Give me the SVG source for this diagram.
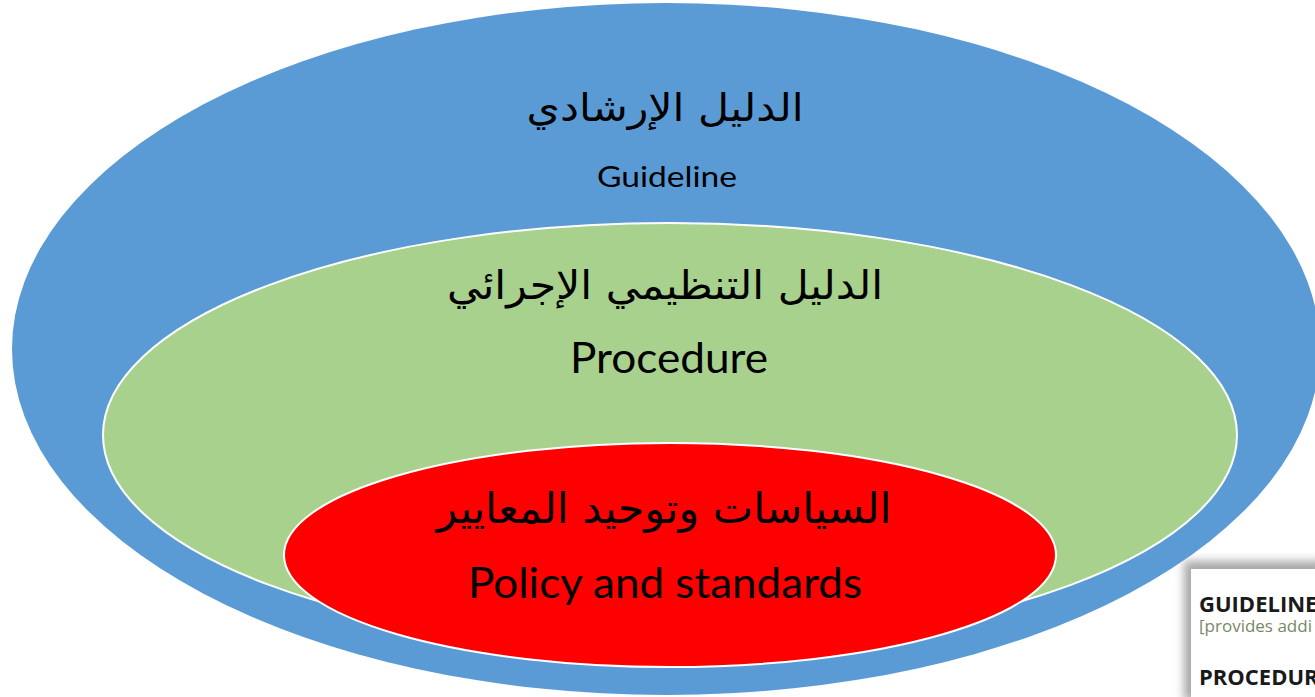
<svg xmlns="http://www.w3.org/2000/svg" width="1315" height="697" viewBox="0 0 1315 697">
<style>
.ar{font-family:"DejaVu Sans",sans-serif;fill:#000;text-anchor:middle}
.en{font-family:Lato,"Open Sans",sans-serif;fill:#000;text-anchor:middle}
.ell{stroke:#fff;stroke-width:2}
.cardT{font-family:"Open Sans","Liberation Sans",sans-serif;font-weight:bold;fill:#1a1a1a}
.cardS{font-family:"Open Sans","Liberation Sans",sans-serif;fill:#7a8766}
</style>
<defs>
<filter id="sh" x="-20%" y="-20%" width="140%" height="140%"><feGaussianBlur stdDeviation="5"/></filter>
</defs>
<rect width="1315" height="697" fill="#fff"/>
<g id="guideline">
<ellipse cx="666" cy="349" rx="654" ry="346" fill="#5B9BD5"/>
<text class="ar" x="665" y="121" font-size="38" textLength="277" lengthAdjust="spacingAndGlyphs">الدليل الإرشادي</text>
<text class="en" x="667" y="187" font-size="28" textLength="140" lengthAdjust="spacingAndGlyphs">Guideline</text>
</g>
<g id="procedure">
<ellipse class="ell" cx="670" cy="435" rx="567" ry="212" fill="#A9D18E"/>
<text class="ar" x="665" y="299" font-size="40" textLength="436" lengthAdjust="spacingAndGlyphs">الدليل التنظيمي الإجرائي</text>
<text class="en" x="669" y="373" font-size="42" textLength="198" lengthAdjust="spacingAndGlyphs">Procedure</text>
</g>
<g id="policy">
<ellipse class="ell" cx="670" cy="555" rx="386" ry="112" fill="#FF0000"/>
<text class="ar" x="664" y="523" font-size="42" textLength="455" lengthAdjust="spacingAndGlyphs">السياسات وتوحيد المعايير</text>
<text class="en" x="665" y="598" font-size="43" textLength="394" lengthAdjust="spacingAndGlyphs">Policy and standards</text>
</g>
<g id="card">
<rect x="1184" y="561" width="140" height="140" fill="#8a8a8a" opacity="0.75" filter="url(#sh)"/>
<rect x="1191" y="569" width="130" height="130" fill="#fff"/>
<text class="cardT" x="1199" y="612" font-size="22">GUIDELINE</text>
<text class="cardS" x="1199" y="632" font-size="17">[provides addi</text>
<text class="cardT" x="1199" y="685" font-size="22">PROCEDURE</text>
<text class="cardS" x="1199" y="709" font-size="17">[establishes m</text>
</g>
<g id="connectors"/>
</svg>
